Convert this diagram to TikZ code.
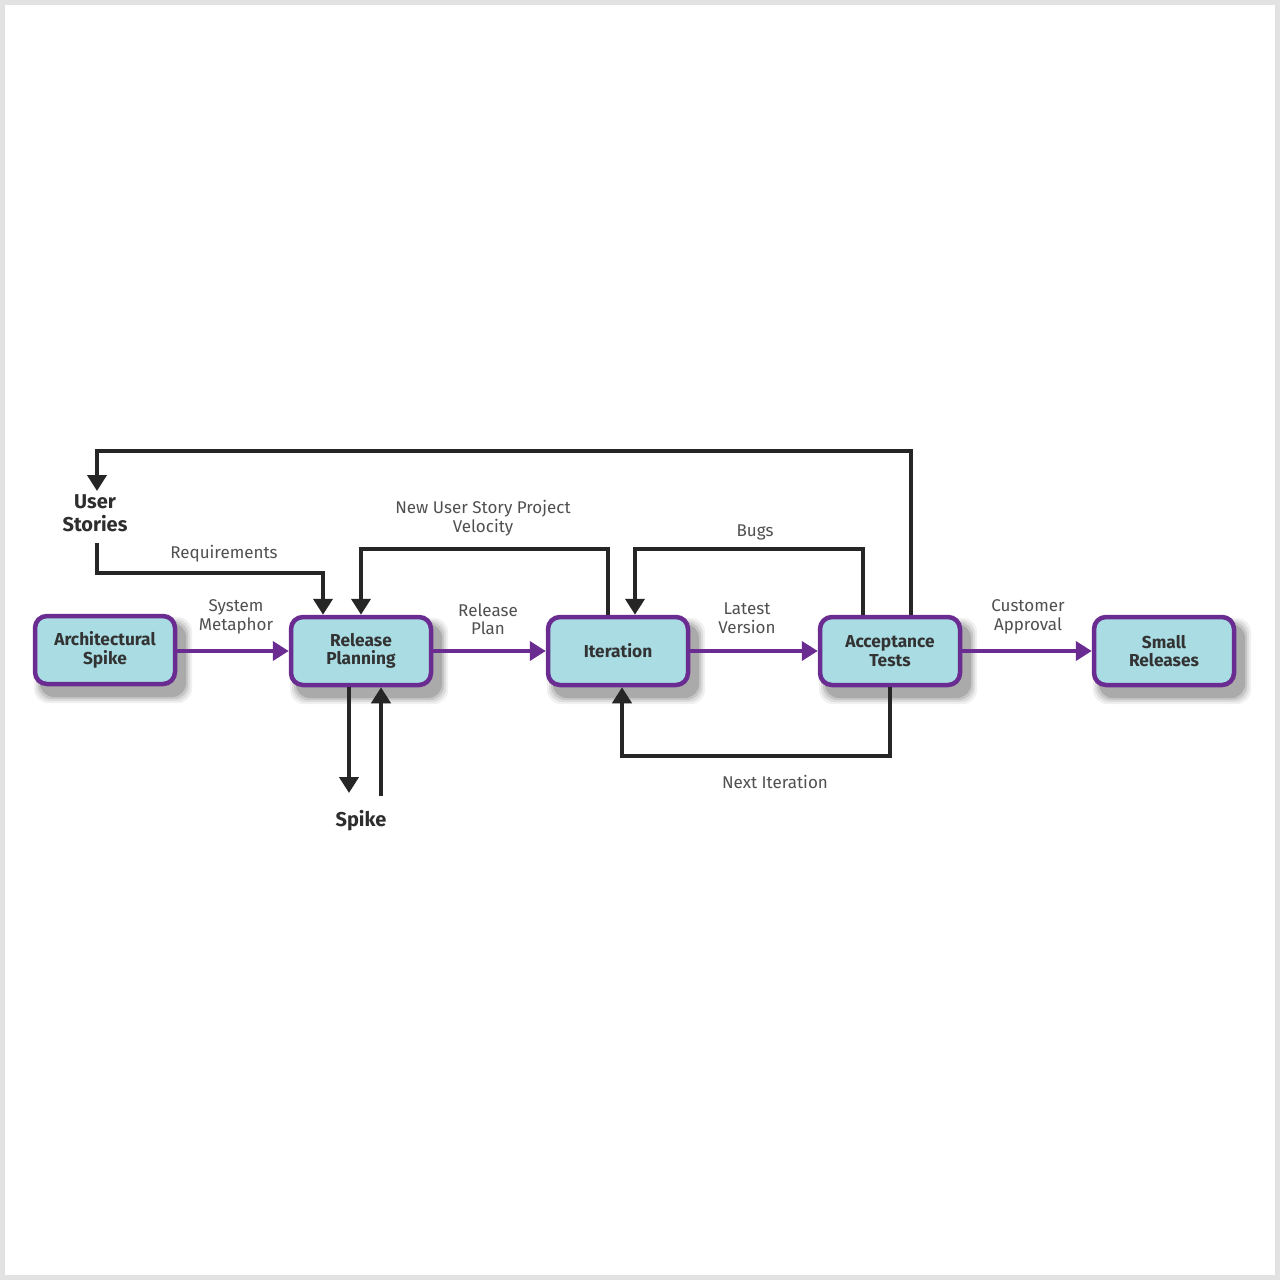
\documentclass[tikz,border=0pt]{standalone}
\usepackage{fontspec}
\setmainfont{Fira Sans}
\usetikzlibrary{arrows.meta,positioning}
\definecolor{boxfill}{HTML}{A9DCE3}
\definecolor{boxline}{HTML}{6A2C91}
\definecolor{labelgray}{HTML}{505050}
\definecolor{framegray}{HTML}{E2E2E2}
\tikzset{
  box/.style={rectangle, rounded corners=12pt, draw=boxline, line width=4.5pt, fill=boxfill,
    minimum width=140pt, minimum height=68pt, align=center, inner sep=2pt,
    font=\bfseries\fontsize{17.3}{18.5}\selectfont, text=black!80},
  lbl/.style={align=center, font=\fontsize{17}{18.5}\selectfont, text=labelgray, inner sep=0pt},
  bold/.style={align=center, font=\bfseries\fontsize{20}{23.5}\selectfont, text=black!82, inner sep=0pt},
  flow/.style={draw=boxline, line width=4pt, -{Triangle[width=19pt,length=16pt]}},
  fb/.style={draw=black!85, line width=4.5pt, -{Triangle[width=19pt,length=16pt]}},
}
\newcommand{\boxshadow}[2]{%
  \foreach \s/\o in {7/0.06,5/0.08,3/0.10,1/0.14}{
    \fill[black, opacity=\o, rounded corners=14pt] (#1-72+8-\s,#2-36+10-\s) rectangle (#1+72+8+\s,#2+36+10+\s);
  }}
\begin{document}
\begin{tikzpicture}[x=1pt,y=-1pt]
\useasboundingbox (0,0) rectangle (1280,1280);
\fill[framegray] (0,0) rectangle (1280,1280);
\fill[white] (5,5) rectangle (1275,1275);

% shadows
\boxshadow{105}{650}
\boxshadow{361}{651}
\boxshadow{618}{651}
\boxshadow{890}{651}
\boxshadow{1164}{651}

% boxes
\node[box] (as) at (105,650) {Architectural\\Spike};
\node[box] (rp) at (361,651) {Release\\Planning};
\node[box] (it) at (618,651) {Iteration};
\node[box] (at) at (890,651) {Acceptance\\Tests};
\node[box] (sr) at (1164,651) {Small\\Releases};

% free nodes
\node[bold] (us) at (95,513) {User\\Stories};
\node[bold] (sp) at (361,821) {Spike};

% coordinates
\coordinate (topR) at (911,451);
\coordinate (topL) at (97,451);
\coordinate (usTip) at (97,491);
\coordinate (reqA) at (97,543);
\coordinate (reqB) at (97,573);
\coordinate (reqC) at (323,573);
\coordinate (velA) at (608,549);
\coordinate (velB) at (361,549);
\coordinate (bugA) at (863,549);
\coordinate (bugB) at (635,549);
\coordinate (nxA) at (890,756);
\coordinate (nxB) at (622,756);
\coordinate (spDown) at (349,793);
\coordinate (spUp) at (381,796);

% purple flow
\draw[flow] (as.east |- rp.west) -- (rp.west);
\draw[flow] (rp.east) -- (it.west);
\draw[flow] (it.east) -- (at.west);
\draw[flow] (at.east) -- (sr.west);

% black feedback lines
\draw[fb] (at.north -| topR) -- (topR) -- (topL) -- (usTip);
\draw[fb] (reqA) -- (reqB) -- (reqC) -- (rp.north -| reqC);
\draw[fb] (it.north -| velA) -- (velA) -- (velB) -- (rp.north -| velB);
\draw[fb] (at.north -| bugA) -- (bugA) -- (bugB) -- (it.north -| bugB);
\draw[fb] (at.south -| nxA) -- (nxA) -- (nxB) -- (it.south -| nxB);
\draw[fb] (rp.south -| spDown) -- (spDown);
\draw[fb] (spUp) -- (rp.south -| spUp);

% labels
\node[lbl] (lreq) at (224,554) {Requirements};
\node[lbl] (lsys) at (236,617) {System\\Metaphor};
\node[lbl] (lvel) at (483,518) {New User Story Project\\Velocity};
\node[lbl] (lrel) at (488,619) {Release\\Plan};
\node[lbl] (lbug) at (755,532) {Bugs};
\node[lbl] (llat) at (747,618) {Latest\\Version};
\node[lbl] (lcus) at (1028,617) {Customer\\Approval};
\node[lbl] (lnxt) at (775,782) {Next Iteration};
\end{tikzpicture}
\end{document}
